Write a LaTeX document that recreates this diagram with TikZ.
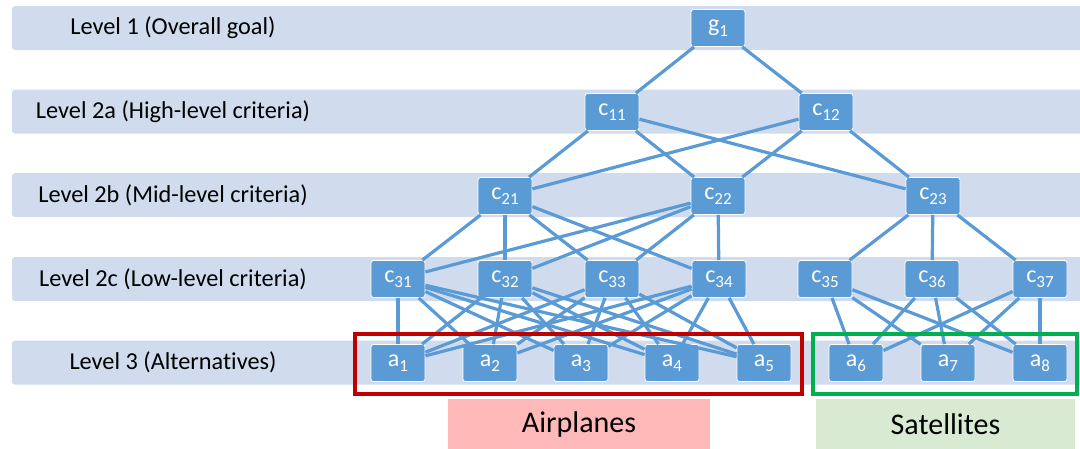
\documentclass[tikz,border=0pt]{standalone}
\usepackage{fontspec}
\setmainfont[Ligatures=NoCommon]{Carlito}
\usetikzlibrary{positioning}
\usepackage{xcolor}
\definecolor{bandblue}{RGB}{208,220,238}
\definecolor{nodeblue}{RGB}{91,155,213}
\definecolor{redframe}{RGB}{192,0,0}
\definecolor{greenframe}{RGB}{0,176,80}
\definecolor{pinkfill}{RGB}{255,185,185}
\definecolor{greenfill}{RGB}{216,234,210}
\newcommand{\crit}[2]{#1\raisebox{-0.45ex}{\fontsize{17}{17}\selectfont #2}}

\tikzset{
    band/.style={fill=bandblue, rounded corners=3pt},
    levellabel/.style={font=\fontsize{24.3}{28}\selectfont, text=black},
    critbox/.style={rectangle, rounded corners=2.5pt, fill=nodeblue, draw=white, line width=0.8pt,
        minimum width=54pt, minimum height=37pt, inner sep=0pt, text=white,
        font=\fontsize{24}{28}\selectfont},
    link/.style={draw=nodeblue, line width=3.2pt},
    groupbox/.style={minimum height=50pt, inner sep=0pt, font=\fontsize{30}{34}\selectfont}
}

\begin{document}
\begin{tikzpicture}[x=1pt, y=-1pt]
    \useasboundingbox (0,0) rectangle (1080,448);

    % level bands
    \foreach \yc/\txt [count=\i] in {28/Level 1 (Overall goal), 111.5/Level 2a (High-level criteria),
        195/Level 2b (Mid-level criteria), 279/Level 2c (Low-level criteria), 362.5/Level 3 (Alternatives)} {
        \fill[band] (12,\yc-22) rectangle (1100,\yc+22);
        \node[levellabel] (lvl\i) at (173,\yc) {\txt};
    }

    % goal and criteria
    \node[critbox] (g1) at (718,28) {\crit{g}{1}};
    \node[critbox] (c11) at (612,112) {\crit{c}{11}};
    \node[critbox] (c12) at (826,112) {\crit{c}{12}};
    \node[critbox] (c21) at (505,196) {\crit{c}{21}};
    \node[critbox] (c22) at (718,196) {\crit{c}{22}};
    \node[critbox] (c23) at (933,196) {\crit{c}{23}};
    \foreach \n/\xc in {31/398, 32/505, 33/612, 34/719, 35/825, 36/932, 37/1040}
        \node[critbox] (c\n) at (\xc,279) {\crit{c}{\n}};

    % alternatives
    \foreach \n/\xc in {1/398, 2/490, 3/581, 4/672, 5/764, 6/856, 7/948, 8/1040}
        \node[critbox] (a\n) at (\xc,363) {\crit{a}{\n}};

    % links
    \draw[link] (g1) -- (c11);
    \draw[link] (g1) -- (c12);
    \foreach \s in {11,12}
        \foreach \t in {21,22,23}
            \draw[link] (c\s) -- (c\t);
    \foreach \s in {21,22}
        \foreach \t in {31,32,33,34}
            \draw[link] (c\s) -- (c\t);
    \foreach \t in {35,36,37}
        \draw[link] (c23) -- (c\t);
    \foreach \s in {31,32,33,34}
        \foreach \t in {1,...,5}
            \draw[link] (c\s) -- (a\t);
    \foreach \s in {35,36,37}
        \foreach \t in {6,7,8}
            \draw[link] (c\s) -- (a\t);

    % groups
    \draw[redframe, line width=3.5pt] (355,334) rectangle (802,394);
    \draw[greenframe, line width=3.5pt] (813,334) rectangle (1077,394);
    \node[groupbox, fill=pinkfill, minimum width=262pt] (airplanes) at (579,424) {Airplanes};
    \node[groupbox, fill=greenfill, minimum width=259pt] (satellites) at (945.5,424) {Satellites};
\end{tikzpicture}
\end{document}
